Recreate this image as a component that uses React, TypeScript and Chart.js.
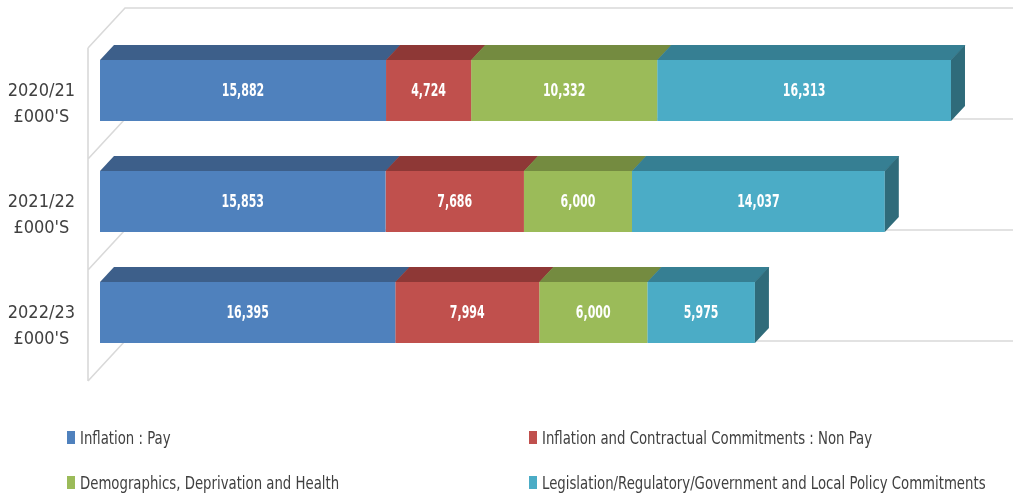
import React, { useEffect, useRef } from "react";
import { Chart, registerables } from "chart.js";

Chart.register(...registerables);

const categories = [
  ["2020/21", "£000'S"],
  ["2021/22", "£000'S"],
  ["2022/23", "£000'S"],
];
const seriesNames = [
  "Inflation : Pay",
  "Inflation and Contractual Commitments : Non Pay",
  "Demographics, Deprivation and Health",
  "Legislation/Regulatory/Government and Local Policy Commitments",
];
const inflationPay = [15882, 15853, 16395];
const inflationNonPay = [4724, 7686, 7994];
const demographics = [10332, 6000, 6000];
const legislation = [16313, 14037, 5975];

const frontColors = ["#4F81BD", "#C0504D", "#9BBB59", "#4BACC6"];
const topColors = ["#3D5F8A", "#8E3836", "#748B40", "#367F93"];
const sideColors = ["#2D4870", "#6E2A29", "#5A6C32", "#2F6B7A"];

const FONT = "'Liberation Sans Narrow', 'DejaVu Sans Condensed', 'Liberation Sans', sans-serif";
const DX = 14;
const DY = -15;

const threeDPlugin = {
  id: "threeD",
  beforeDatasetsDraw(chart: any) {
    const { ctx, chartArea } = chart;
    const n = chart.data.labels.length;
    const pitch = (chartArea.bottom - chartArea.top) / n;
    const fx = -12, fy = 13, bx = 25, by = -27;
    ctx.save();
    ctx.strokeStyle = "#D9D9D9";
    ctx.lineWidth = 1.6;
    ctx.beginPath();
    ctx.moveTo(chartArea.left + fx, chartArea.top + fy);
    ctx.lineTo(chartArea.left + fx, chartArea.bottom + fy);
    for (let i = 0; i <= n; i++) {
      const yb = chartArea.top + i * pitch;
      ctx.moveTo(chartArea.left + fx, yb + fy);
      ctx.lineTo(chartArea.left + bx, yb + by);
      ctx.lineTo(chartArea.right + bx + 40, yb + by);
    }
    ctx.stroke();
    ctx.restore();
  },
  afterDatasetsDraw(chart: any) {
    const { ctx } = chart;
    const nData = chart.data.labels.length;
    const nSets = chart.data.datasets.length;
    ctx.save();
    for (let j = 0; j < nData; j++) {
      let lastIdx = -1;
      let last: any = null;
      for (let d = 0; d < nSets; d++) {
        const bar = chart.getDatasetMeta(d).data[j];
        const p = bar.getProps(["x", "y", "base", "height"], true);
        const top = p.y - p.height / 2;
        const x0 = Math.min(p.base, p.x);
        const x1 = Math.max(p.base, p.x);
        ctx.fillStyle = topColors[d];
        ctx.beginPath();
        ctx.moveTo(x0, top);
        ctx.lineTo(x1 + 0.5, top);
        ctx.lineTo(x1 + 0.5 + DX, top + DY);
        ctx.lineTo(x0 + DX, top + DY);
        ctx.closePath();
        ctx.fill();
        last = { x1, top, bottom: p.y + p.height / 2 };
        lastIdx = d;
      }
      if (last) {
        ctx.fillStyle = sideColors[lastIdx];
        ctx.beginPath();
        ctx.moveTo(last.x1, last.top);
        ctx.lineTo(last.x1 + DX, last.top + DY);
        ctx.lineTo(last.x1 + DX, last.bottom + DY);
        ctx.lineTo(last.x1, last.bottom);
        ctx.closePath();
        ctx.fill();
      }
    }
    // data labels
    ctx.fillStyle = "#FFFFFF";
    ctx.font = `bold 17px ${FONT}`;
    ctx.textAlign = "center";
    ctx.textBaseline = "middle";
    for (let d = 0; d < nSets; d++) {
      const meta = chart.getDatasetMeta(d);
      meta.data.forEach((bar: any, j: number) => {
        const p = bar.getProps(["x", "y", "base"], true);
        const v = chart.data.datasets[d].data[j];
        ctx.save();
        ctx.translate((p.x + p.base) / 2, p.y + 1);
        ctx.scale(0.72, 1);
        ctx.fillText(v.toLocaleString("en-GB"), 0, 0);
        ctx.restore();
      });
    }
    ctx.restore();
  },
};

export default function App() {
  const ref = useRef<HTMLCanvasElement>(null);
  useEffect(() => {
    if (!ref.current) return;
    const chart = new Chart(ref.current, {
      type: "bar",
      data: {
        labels: categories as any,
        datasets: [inflationPay, inflationNonPay, demographics, legislation].map((data, i) => ({
          label: seriesNames[i],
          data,
          backgroundColor: frontColors[i],
          borderWidth: 0,
          barPercentage: 0.55,
          categoryPercentage: 1,
        })),
      },
      options: {
        indexAxis: "y",
        animation: false,
        responsive: true,
        maintainAspectRatio: false,
        layout: { padding: { left: 0, top: 35, right: 12.5, bottom: 128 } },
        plugins: { legend: { display: false }, tooltip: { enabled: false } },
        scales: {
          x: { stacked: true, display: false, min: 0, max: 50000 },
          y: {
            stacked: true,
            grid: { display: false, drawTicks: false },
            border: { display: false },
            ticks: {
              color: "#404040",
              font: { family: FONT, size: 18, lineHeight: 1.45 },
              padding: 25,
              crossAlign: "center",
              labelOffset: 13.5,
            },
            afterFit(scale: any) {
              scale.width = 100;
              scale.paddingTop = 0;
              scale.paddingBottom = 0;
            },
          },
        },
      },
      plugins: [threeDPlugin],
    } as any);
    return () => chart.destroy();
  }, []);

  const legendPos = [
    { left: 67, cy: 437 },
    { left: 529, cy: 437 },
    { left: 67, cy: 482 },
    { left: 529, cy: 482 },
  ];

  return (
    <div style={{ position: "absolute", left: 0, top: 0, width: 1013, height: 496, background: "#fff" }}>
      <canvas ref={ref} />
      {seriesNames.map((name, i) => (
        <div
          key={name}
          style={{
            position: "absolute",
            left: legendPos[i].left,
            top: legendPos[i].cy - 11,
            height: 22,
            display: "flex",
            alignItems: "center",
            whiteSpace: "nowrap",
            fontFamily: FONT,
            fontSize: 18,
            color: "#404040",
          }}
        >
          <span style={{ display: "inline-block", width: 8, height: 13, background: frontColors[i], marginRight: 5 }} />
          <span style={{ display: "inline-block", transform: "scaleX(0.82)", transformOrigin: "left center" }}>{name}</span>
        </div>
      ))}
    </div>
  );
}
